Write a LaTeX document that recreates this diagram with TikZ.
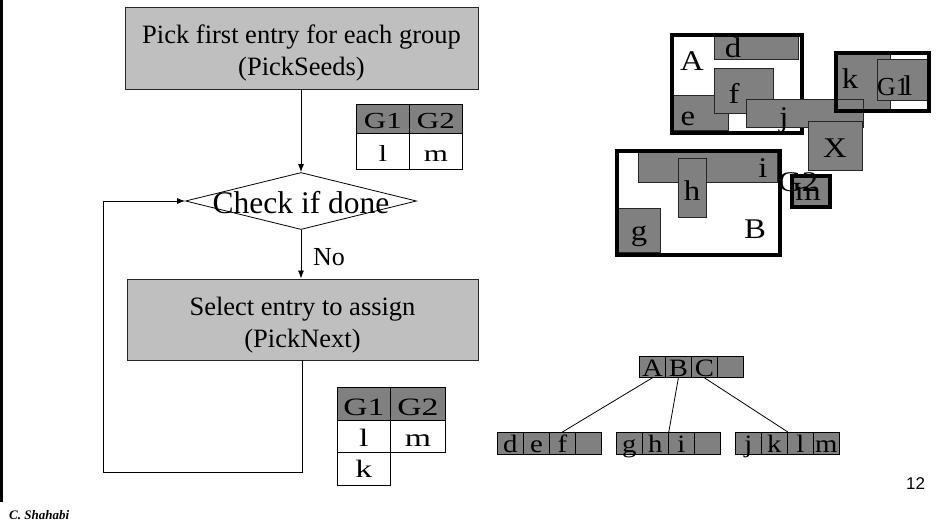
\documentclass[tikz,border=0pt]{standalone}
\usepackage{fontspec}
\setmainfont{Liberation Serif}
\newfontfamily\arialfont{Liberation Sans}
\newfontfamily\widefont[FakeStretch=1.35]{Liberation Serif}
\newfontfamily\lblfont[FakeStretch=1.15]{Liberation Serif}
\usetikzlibrary{shapes.geometric,arrows.meta}
\definecolor{lightfill}{gray}{0.75}
\definecolor{darkfill}{gray}{0.5}
% box given by its corners: name, style, x1, y1, x2, y2
\newcommand\placebox[6]{\node[#2,anchor=north west,minimum width={#5-#3},minimum height={#6-#4}] (#1) at (#3,#4) {};}
\begin{document}
\begin{tikzpicture}[x=1pt,y=-1pt,
  flowbox/.style={draw=black!85,fill=lightfill,line width=0.9pt,inner sep=0},
  flowtext/.style={inner sep=0,align=center,font=\fontsize{26.5}{32.5}\selectfont},
  conn/.style={line width=0.8pt,-{Latex[length=8pt,width=6pt]}},
  plain/.style={line width=0.8pt},
  bigtext/.style={font=\fontsize{26}{30}\selectfont,inner sep=0},
  lbl/.style={font=\lblfont\fontsize{28.5}{30}\selectfont,inner sep=0,anchor=base},
  cell/.style={draw,line width=0.8pt,inner sep=0,anchor=north west},
  headcell/.style={cell,fill=darkfill},
  bodycell/.style={cell,fill=white},
  smallt/.style={font=\widefont\fontsize{23}{26}\selectfont},
  larget/.style={font=\widefont\fontsize{25}{28}\selectfont},
  gbox/.style={draw=black!85,fill=darkfill,line width=0.8pt,inner sep=0},
  frame/.style={draw,line width=4pt,inner sep=0},
  gframe/.style={draw,fill=darkfill,line width=4pt,inner sep=0},
  tcell/.style={draw,fill=darkfill,line width=0.8pt,inner sep=0,anchor=north west,
                minimum width=26,font=\lblfont\fontsize{25}{28}\selectfont},
  rootcell/.style={tcell,minimum height=21,text height=20,text depth=1},
  leafcell/.style={tcell,minimum height=22,text height=20,text depth=2}]
\useasboundingbox (0,0) rectangle (951,531);

% slide edge
\fill (0,0) rectangle (3,502);

% ---------------- flow chart ----------------
\node[flowbox,minimum width=353,minimum height=82] (pick) at (301.5,48) {};
\node[flowtext] (picktxt) at (301.5,53) {Pick first entry for each group\\(PickSeeds)};
\node[diamond,draw,line width=0.8pt,minimum width=231,minimum height=57,inner sep=0]
  (chk) at (301,201) {};
\node[font=\fontsize{31.5}{36}\selectfont,inner sep=0,anchor=base] (chktxt) at (301,213) {Check if done};
\node[flowbox,minimum width=351,minimum height=81] (sel) at (302.5,319.5) {};
\node[flowtext] (seltxt) at (302.5,325) {Select entry to assign\\(PickNext)};
\coordinate (loopc) at (103,472);

\draw[conn] (chk.north |- pick.south) -- (chk.north);
\draw[conn] (chk.south) -- (chk.south |- sel.north);
\node[bigtext,anchor=base west] (no) at (313,265) {No};
\draw[conn] (sel.south) |- (loopc) |- (chk.west);

% group tables
\node[headcell,smallt,minimum width=53,minimum height=29,text height=20,text depth=1] (ta1) at (356,104) {G1};
\node[headcell,smallt,minimum width=53,minimum height=29,text height=20,text depth=1] (ta2) at (409,104) {G2};
\node[bodycell,smallt,minimum width=53,minimum height=36,text height=22,text depth=1] (ta3) at (356,133) {l};
\node[bodycell,smallt,minimum width=53,minimum height=36,text height=22,text depth=1] (ta4) at (409,133) {m};

\node[headcell,larget,minimum width=53,minimum height=33,text height=24,text depth=1] (tb1) at (337,387) {G1};
\node[headcell,larget,minimum width=55,minimum height=33,text height=24,text depth=1] (tb2) at (390,387) {G2};
\node[bodycell,larget,minimum width=53,minimum height=32,text height=21,text depth=1] (tb3) at (337,420) {l};
\node[bodycell,larget,minimum width=55,minimum height=32,text height=21,text depth=1] (tb4) at (390,420) {m};
\node[bodycell,larget,minimum width=53,minimum height=33,text height=19,text depth=1] (tb5) at (337,452) {k};

% ---------------- rectangles in the plane ----------------
\placebox{bd}{gbox}{714}{35}{798}{59}
\placebox{be}{gbox}{671}{95}{728}{130}
\placebox{bf}{gbox}{714}{68}{773}{113}
\placebox{fA}{frame}{670}{33}{800}{131}
\placebox{bk}{gbox}{834}{51}{890}{109}
\placebox{bl}{gbox}{877}{59}{927}{100}
\placebox{bj}{gbox}{746}{99}{863}{127}
\placebox{bx}{gbox}{808}{121}{862}{170}
\placebox{fC}{frame}{834}{51}{927}{109}
\placebox{bi}{gbox}{638}{151}{777}{182}
\placebox{bh}{gbox}{678}{158}{706}{217}
\placebox{bg}{gbox}{617}{208}{660}{252}
\placebox{fB}{frame}{615}{149}{778}{253}
\placebox{bm}{gframe}{790}{174}{828}{205}

\node[lbl] (tA) at (692,70) {A};
\node[lbl] (td) at (733,57) {d};
\node[lbl] (tf) at (734,103) {f};
\node[lbl] (te) at (688,125) {e};
\node[lbl] (tj) at (784,126) {j};
\node[lbl] (tk) at (850,88) {k};
\node[lbl,font=\fontsize{26}{30}\selectfont,anchor=base west] (tG1) at (877,95) {G1};
\node[lbl] (tl) at (908,95) {l};
\node[lbl] (tX) at (835,157) {X};
\node[lbl] (ti) at (763,177) {i};
\node[lbl] (th) at (692,200) {h};
\node[lbl] (tg) at (639,240) {g};
\node[lbl] (tB) at (755,238) {B};
\node[lbl,anchor=base west] (tG2) at (778,191) {G2};
\node[lbl] (tm) at (808,200) {m};

% ---------------- tree ----------------
\node[rootcell] (rA) at (639,356) {A};
\node[rootcell] (rB) at (665,356) {B};
\node[rootcell] (rC) at (691,356) {C};
\node[rootcell] (rD) at (717,356) {};

\node[leafcell] (ld) at (497,432) {d};
\node[leafcell] (le) at (523,432) {e};
\node[leafcell] (lf) at (549,432) {f};
\node[leafcell] (lx1) at (575,432) {};

\node[leafcell] (lg) at (616,432) {g};
\node[leafcell] (lh) at (642,432) {h};
\node[leafcell] (li) at (668,432) {i};
\node[leafcell] (lx2) at (694,432) {};

\node[leafcell] (lj) at (735,432) {j};
\node[leafcell] (lk) at (761,432) {k};
\node[leafcell] (ll) at (787,432) {l};
\node[leafcell] (lm) at (813,432) {m};

\draw[plain] (rA.south) -- (lf.north);
\draw[plain] (rB.south) -- (lh.north east);
\draw[plain] (rC.south) -- (lk.north east);

% ---------------- footer ----------------
\node[font=\fontsize{13}{15}\selectfont\bfseries\itshape,inner sep=0,anchor=base west]
  (author) at (9,519) {C. Shahabi};
\node[font=\arialfont\fontsize{17}{20}\selectfont,inner sep=0,anchor=base]
  (pagenum) at (915.5,489) {12};
\end{tikzpicture}
\end{document}
